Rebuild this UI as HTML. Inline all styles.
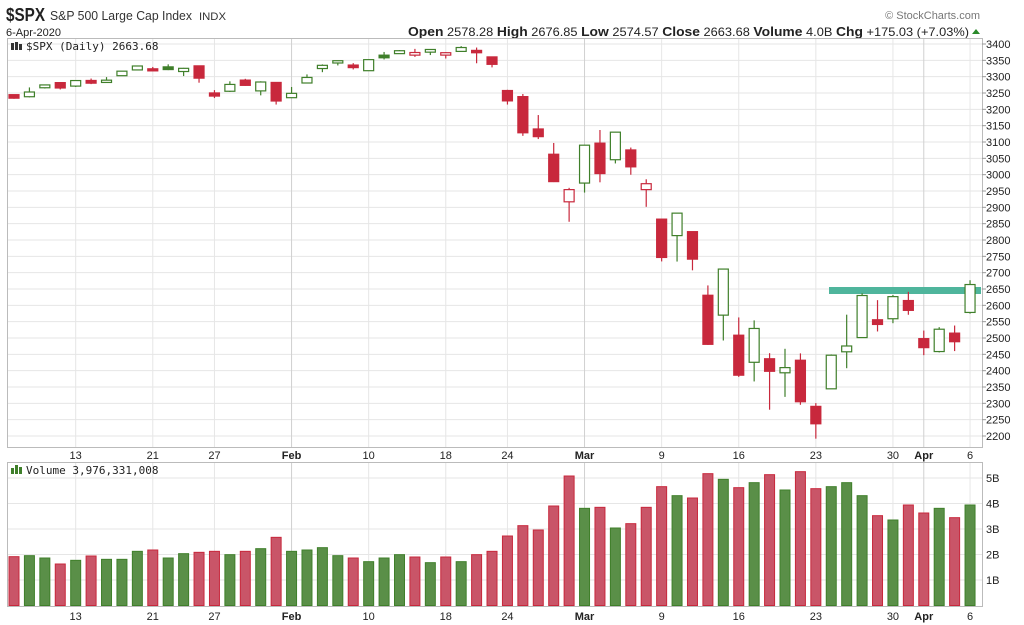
<!DOCTYPE html>
<html><head><meta charset="utf-8"><style>
body{margin:0;background:#fff;width:1024px;height:625px;overflow:hidden;font-family:"Liberation Sans",sans-serif}
svg{position:absolute;left:0;top:0}
</style></head><body>
<svg id="s" width="1024" height="625" xmlns="http://www.w3.org/2000/svg" font-family="Liberation Sans, sans-serif">
<text x="6" y="21" font-size="18" font-weight="bold" fill="#222" textLength="39" lengthAdjust="spacingAndGlyphs">$SPX</text>
<text x="50" y="20" font-size="13" fill="#333" textLength="142" lengthAdjust="spacingAndGlyphs">S&amp;P 500 Large Cap Index</text>
<text x="199" y="20" font-size="11" fill="#333" textLength="27" lengthAdjust="spacingAndGlyphs">INDX</text>
<text x="6" y="36" font-size="11" fill="#222">6-Apr-2020</text>
<text x="980" y="19" font-size="11" fill="#777" text-anchor="end">© StockCharts.com</text>
<text x="408" y="36" font-size="12" fill="#222" textLength="561" lengthAdjust="spacingAndGlyphs"><tspan font-weight="bold" font-size="13">Open</tspan> 2578.28  <tspan font-weight="bold" font-size="13">High</tspan> 2676.85  <tspan font-weight="bold" font-size="13">Low</tspan> 2574.57  <tspan font-weight="bold" font-size="13">Close</tspan> 2663.68  <tspan font-weight="bold" font-size="13">Volume</tspan> 4.0B  <tspan font-weight="bold" font-size="13">Chg</tspan> +175.03 (+7.03%)</text>
<polygon points="972,34 980,34 976,29" fill="#2a8a2a"/>
<g id="g"></g>
</svg>
<script>
const d=[[3241.86,3244.91,3232.43,3237.18],[3238.59,3267.07,3236.67,3253.05],[3266.03,3275.58,3263.67,3274.70],[3281.81,3282.99,3260.86,3265.35],[3271.13,3288.13,3268.43,3288.13],[3285.35,3294.25,3277.19,3283.15],[3282.27,3298.66,3280.69,3289.29],[3302.97,3317.11,3302.82,3316.81],[3323.66,3329.88,3318.86,3329.62],[3321.03,3329.79,3316.61,3320.79],[3330.02,3337.77,3320.04,3321.75],[3315.77,3326.88,3301.87,3325.54],[3333.10,3333.18,3281.53,3295.47],[3247.16,3258.85,3234.50,3243.63],[3255.35,3285.78,3253.22,3276.24],[3289.46,3293.47,3271.89,3273.40],[3256.45,3285.91,3242.80,3283.66],[3282.33,3282.33,3214.68,3225.52],[3235.66,3268.44,3235.66,3248.92],[3280.61,3306.92,3280.61,3297.59],[3324.91,3337.58,3313.75,3334.69],[3344.92,3347.96,3334.39,3345.78],[3335.54,3341.42,3322.12,3327.71],[3318.28,3352.26,3317.77,3352.09],[3365.87,3375.63,3352.72,3357.75],[3370.50,3381.47,3369.72,3379.45],[3365.90,3385.09,3360.52,3373.94],[3378.08,3380.69,3366.15,3380.16],[3369.04,3375.01,3355.61,3370.29],[3380.39,3393.52,3378.83,3386.15],[3380.45,3389.15,3341.02,3373.23],[3360.50,3360.76,3328.45,3337.75],[3257.61,3259.81,3214.65,3225.89],[3238.94,3246.99,3118.77,3128.21],[3139.90,3182.51,3108.99,3116.39],[3062.54,3097.07,2977.39,2978.76],[2916.90,2959.72,2855.84,2954.22],[2974.28,3090.96,2945.19,3090.23],[3096.46,3136.72,2976.63,3003.37],[3045.75,3130.97,3034.38,3130.12],[3075.70,3083.04,2999.83,3023.94],[2954.20,2985.93,2901.54,2972.37],[2863.89,2863.89,2734.43,2746.56],[2813.48,2882.59,2734.00,2882.23],[2825.60,2825.60,2707.22,2741.38],[2630.86,2660.95,2478.86,2480.64],[2569.99,2711.33,2492.37,2711.02],[2508.59,2562.98,2380.94,2386.13],[2425.66,2553.93,2367.04,2529.19],[2436.50,2453.57,2280.52,2398.10],[2393.48,2466.97,2319.78,2409.39],[2431.94,2453.01,2295.56,2304.92],[2290.71,2300.73,2191.86,2237.40],[2344.44,2449.71,2344.44,2447.33],[2457.77,2571.42,2407.53,2475.56],[2501.29,2637.01,2500.72,2630.07],[2555.87,2615.91,2520.02,2541.47],[2558.98,2631.80,2545.28,2626.65],[2614.69,2641.39,2571.15,2584.59],[2498.08,2522.75,2447.49,2470.50],[2458.54,2533.22,2455.79,2526.90],[2514.92,2538.18,2459.96,2488.65],[2578.28,2676.85,2574.57,2663.68]];
const vt3=[380,377,384,402,391,378,388,388,364,360,384,371,367,364,374,364,356,322,364,360,353,377,384,395,384,374,381,398,381,395,374,364,318,287,300,228,138,235,232,294,281,232,170,197,204,131,148,173,158,134,180,125,176,170,158,197,257,270,225,249,235,263,225];
const G='#3f7f2a',R='#c8283c';
let h='';
const X=i=>14+i*15.42, Y=p=>44+(3400-p)*0.32667;
h+='<rect x="7.5" y="38.5" width="975" height="409" fill="#fff" stroke="#bbb"/>';
h+='<rect x="7.5" y="462.5" width="975" height="144" fill="#fff" stroke="#bbb"/>';
for(let p=2200;p<=3400;p+=50){let y=Y(p);h+=`<line x1="8" x2="982" y1="${y}" y2="${y}" stroke="#e6e6e6"/><line x1="982" x2="986" y1="${y}" y2="${y}" stroke="#999"/><text x="986" y="${y+4}" font-size="11" fill="#222">${p}</text>`;}
for(let b=1;b<=5;b++){let y=605.5-b*25.5;h+=`<line x1="8" x2="982" y1="${y}" y2="${y}" stroke="#e6e6e6"/><text x="986" y="${y+4}" font-size="11" fill="#222">${b}B</text>`;}
const labs=[[4,'13'],[9,'21'],[13,'27'],[18,'Feb',1],[23,'10'],[28,'18'],[32,'24'],[37,'Mar',1],[42,'9'],[47,'16'],[52,'23'],[57,'30'],[59,'Apr',1],[62,'6']];
for(const [i,t,b] of labs){let x=X(i);h+=`<line x1="${x}" x2="${x}" y1="39" y2="447" stroke="${b?'#d0d0d0':'#e6e6e6'}"/><line x1="${x}" x2="${x}" y1="463" y2="606" stroke="${b?'#d0d0d0':'#e6e6e6'}"/>`;
for(const yy of [459,620])h+=`<text x="${x}" y="${yy}" font-size="11" text-anchor="middle" fill="#222" ${b?'font-weight="bold"':''}>${t}</text>`;}
h+='<rect x="829" y="287" width="152" height="7" fill="#4fb59c"/>';
let prev=3246.28;
d.forEach((c,i)=>{const [o,hi,lo,cl]=c;const col=cl>=prev?G:R;const x=X(i);
 h+=`<line x1="${x}" x2="${x}" y1="${Y(hi)}" y2="${Y(lo)}" stroke="${col}" stroke-width="1.2"/>`;
 let t=Y(Math.max(o,cl)),b=Y(Math.min(o,cl));if(b-t<2){t-=1;b+=1;}
 h+=`<rect x="${x-5}" y="${t}" width="10" height="${b-t}" fill="${cl>o?'#fff':col}" stroke="${col}" stroke-width="1.2"/>`;
 const vy=430+vt3[i]/3;
 h+=`<rect x="${x-5}" y="${vy}" width="10" height="${605.5-vy}" fill="${cl>=prev?'#5a8f48':'#c95568'}" stroke="${cl>=prev?G:R}" stroke-width="1"/>`;
 prev=cl;});
h+='<text x="26" y="50" font-size="11" fill="#222" style="font-family:\'DejaVu Sans Mono\',\'Liberation Mono\',monospace">$SPX (Daily) 2663.68</text><rect x="11" y="43" width="3" height="7" fill="#333"/><rect x="15" y="42" width="3" height="8" fill="#333"/><rect x="19" y="44" width="3" height="6" fill="#333"/>';
h+='<text x="26" y="474" font-size="11" fill="#222" style="font-family:\'DejaVu Sans Mono\',\'Liberation Mono\',monospace">Volume 3,976,331,008</text><rect x="11" y="468" width="3" height="6" fill="#3f7f2a"/><rect x="15" y="465" width="3" height="9" fill="#3f7f2a"/><rect x="19" y="467" width="3" height="7" fill="#3f7f2a"/>';
document.getElementById('g').innerHTML=h;
</script>
</body></html>
